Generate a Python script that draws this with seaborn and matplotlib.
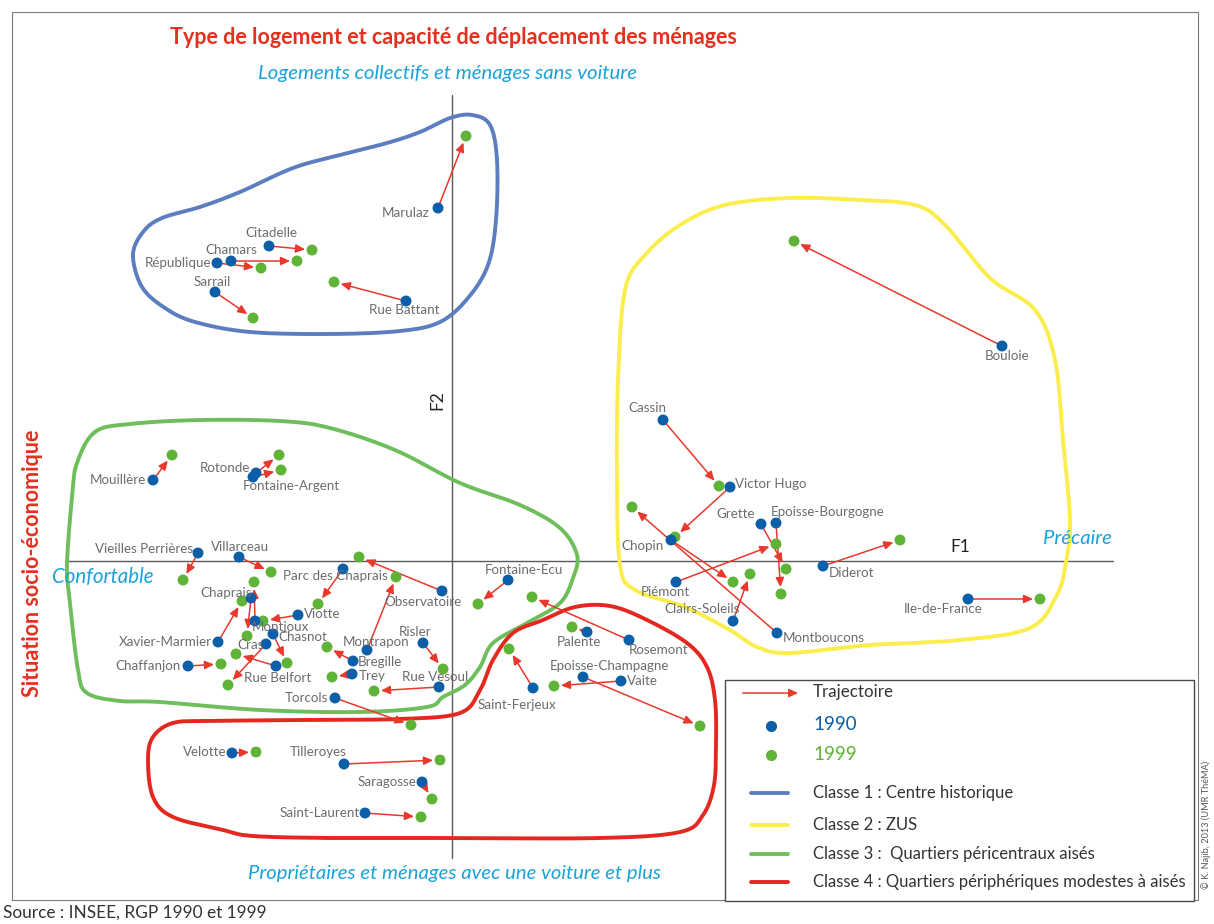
import numpy as np
import pandas as pd
import matplotlib
matplotlib.use("Agg")
import matplotlib.pyplot as plt
import seaborn as sns
from matplotlib.patches import Rectangle, FancyArrowPatch

# ---------------- DATA ----------------
quartiers = [
    "Marulaz", "Citadelle", "Chamars", "République", "Sarrail", "Rue Battant",
    "Bouloie", "Cassin", "Victor Hugo", "Chopin", "Montboucons", "Piémont",
    "Clairs-Soleils", "Grette", "Epoisse-Bourgogne", "Diderot", "Ile-de-France",
    "Mouillère", "Rotonde", "Fontaine-Argent", "Vieilles Perrières", "Villarceau",
    "Parc des Chaprais", "Observatoire", "Montrapon", "Bregille", "Trey", "Risler",
    "Rue Vesoul", "Viotte", "Chaprais", "Montjoux", "Xavier-Marmier", "Chasnot",
    "Cras", "Rue Belfort", "Chaffanjon", "Torcols", "Fontaine-Ecu",
    "Palente", "Rosemont", "Saint-Ferjeux", "Epoisse-Champagne", "Vaite",
    "Velotte", "Tilleroyes", "Saragosse", "Saint-Laurent",
]
classe = [1] * 6 + [2] * 11 + [3] * 22 + [4] * 9

f1_1990 = [-0.14, -1.83, -2.21, -2.35, -2.37, -0.46,
           5.50, 2.11, 2.78, 2.19, 3.25, 2.24, 2.81, 3.09, 3.24, 3.71, 5.16,
           -2.99, -1.96, -1.99, -2.54, -2.13, -1.09, -0.10, -0.85, -0.99, -1.00, -0.29,
           -0.13, -1.54, -2.01, -1.97, -2.34, -1.79, -1.86, -1.76, -2.64, -1.17, 0.56,
           1.35, 1.77, 0.81, 1.31, 1.69, -2.20, -1.08, -0.30, -0.87]
f2_1990 = [3.53, 3.15, 3.00, 2.98, 2.69, 2.60,
           2.15, 1.41, 0.74, 0.21, -0.72, -0.21, -0.60, 0.37, 0.38, -0.05, -0.38,
           0.81, 0.88, 0.84, 0.08, 0.04, -0.08, -0.30, -0.89, -1.00, -1.13, -0.82,
           -1.26, -0.54, -0.37, -0.60, -0.81, -0.73, -0.83, -1.05, -1.05, -1.37, -0.19,
           -0.71, -0.79, -1.27, -1.16, -1.20, -1.92, -2.03, -2.21, -2.52]
f1_1999 = [0.14, -1.40, -1.55, -1.91, -1.99, -1.18,
           3.42, 2.67, 2.23, 2.81, 1.80, 3.24, 2.98, 3.34, 3.29, 4.48, 5.88,
           -2.80, -1.73, -1.71, -2.69, -1.81, -1.34, -0.93, -0.56, -1.25, -1.20, -0.09,
           -0.78, -1.89, -2.05, -1.98, -2.10, -1.65, -2.24, -2.16, -2.31, -0.41, 0.26,
           1.20, 0.80, 0.57, 2.48, 1.02, -1.96, -0.12, -0.20, -0.31]
f2_1999 = [4.25, 3.11, 3.00, 2.93, 2.43, 2.79,
           3.20, 0.75, 0.24, -0.21, 0.54, 0.17, -0.13, -0.08, -0.33, 0.21, -0.38,
           1.06, 1.06, 0.91, -0.19, -0.11, -0.43, 0.04, -0.16, -0.86, -1.16, -1.08,
           -1.30, -0.60, -0.75, -0.21, -0.40, -1.02, -1.24, -0.93, -1.03, -1.64, -0.43,
           -0.66, -0.36, -0.88, -1.65, -1.25, -1.91, -1.99, -2.38, -2.56]

# class outlines (hand-drawn envelopes, in factor units)
hull1_f1 = [-3.19, -3.09, -2.90, -2.52, -2.12, -1.59, -1.12, -0.65, -0.32, -0.02, 0.20, 0.38,
            0.45, 0.44, 0.36, 0.16, -0.12, -0.52, -1.22, -2.02, -2.57, -2.87, -3.10]
hull1_f2 = [3.06, 3.29, 3.43, 3.54, 3.69, 3.93, 4.06, 4.18, 4.29, 4.43, 4.46, 4.36,
            4.01, 3.41, 2.96, 2.63, 2.39, 2.30, 2.27, 2.29, 2.39, 2.53, 2.74]
hull2_f1 = [1.73, 1.93, 2.28, 2.73, 3.38, 4.08, 4.63, 4.93, 5.38, 5.83, 6.03, 6.11, 6.18,
            6.14, 6.05, 5.78, 5.08, 4.18, 3.38, 3.05, 2.78, 2.33, 1.83, 1.68, 1.65, 1.66]
hull2_f2 = [2.71, 3.06, 3.36, 3.56, 3.63, 3.61, 3.56, 3.36, 2.83, 2.51, 2.01, 1.21, 0.41,
            -0.01, -0.34, -0.67, -0.79, -0.84, -0.92, -0.86, -0.69, -0.46, -0.29, -0.04, 0.81, 1.81]
hull3_f1 = [-3.57, -3.22, -2.52, -1.72, -1.22, -0.57, 0.08, 0.68, 1.08, 1.25, 1.21, 1.08,
            0.75, 0.41, 0.28, 0.13, -0.09, -0.25, -0.92, -1.92, -2.92, -3.32, -3.65, -3.74,
            -3.82, -3.85, -3.80, -3.75]
hull3_f2 = [1.29, 1.37, 1.41, 1.40, 1.33, 1.11, 0.78, 0.56, 0.33, 0.06, -0.17, -0.42,
            -0.62, -0.82, -1.06, -1.24, -1.36, -1.46, -1.51, -1.49, -1.41, -1.40, -1.32, -1.09,
            -0.42, -0.04, 0.64, 0.98]
hull4_f1 = [-2.79, -2.42, -1.52, -0.52, 0.08, 0.28, 0.41, 0.61, 0.91, 1.23, 1.58, 1.93,
            2.35, 2.55, 2.63, 2.64, 2.62, 2.51, 2.28, 1.48, -0.12, -1.22, -1.99, -2.29,
            -2.79, -2.99, -3.04, -2.99]
hull4_f2 = [-1.62, -1.60, -1.59, -1.58, -1.52, -1.29, -0.99, -0.72, -0.59, -0.46, -0.45, -0.58,
            -0.82, -1.06, -1.39, -1.84, -2.24, -2.54, -2.71, -2.77, -2.77, -2.77, -2.75, -2.69,
            -2.56, -2.36, -1.99, -1.76]

classes_legende = ["Classe 1 : Centre historique", "Classe 2 : ZUS",
                   "Classe 3 :  Quartiers péricentraux aisés",
                   "Classe 4 : Quartiers périphériques modestes à aisés"]

# ---------------- STYLE ----------------
BLUE_PT = "#0b5ea8"
GREEN_PT = "#5fb437"
RED_ARW = "#e8392c"
HULL_COL = {1: "#5b7ec0", 2: "#fbee4c", 3: "#6ebe5c", 4: "#e4281f"}
GRAY_TXT = "#6b6c6e"
CYAN = "#1ba1dc"
TITLE_RED = "#e4301f"

# label offsets in pixels (dx, dy screen-down) and alignment
LBL = {
    "Marulaz": (-8, 5, "right"), "Citadelle": (2, -13, "center"), "Chamars": (0, -11, "center"),
    "République": (-6, 0, "right"), "Sarrail": (-3, -10, "center"), "Rue Battant": (-2, 9, "center"),
    "Bouloie": (5, 10, "center"), "Cassin": (-16, -12, "center"), "Victor Hugo": (5, -3, "left"),
    "Chopin": (-28, 6, "center"), "Montboucons": (6, 5, "left"), "Piémont": (-11, 10, "center"),
    "Clairs-Soleils": (-31, -12, "center"), "Grette": (-6, -10, "right"),
    "Epoisse-Bourgogne": (52, -11, "center"), "Diderot": (6, 7, "left"),
    "Ile-de-France": (-25, 10, "center"), "Mouillère": (-7, 0, "right"),
    "Rotonde": (-6, -5, "right"), "Fontaine-Argent": (-10, 9, "left"),
    "Vieilles Perrières": (-5, -4, "right"), "Villarceau": (1, -10, "center"),
    "Parc des Chaprais": (-60, 7, "left"), "Observatoire": (-19, 11, "center"),
    "Montrapon": (9, -8, "center"), "Bregille": (5, 1, "left"), "Trey": (7, 2, "left"),
    "Risler": (-8, -11, "center"), "Rue Vesoul": (-4, -10, "center"), "Viotte": (6, -1, "left"),
    "Chaprais": (-25, -5, "center"), "Montjoux": (-3, 6, "left"),
    "Xavier-Marmier": (-6, 0, "right"), "Chasnot": (5, 3, "left"), "Cras": (-2, 1, "right"),
    "Rue Belfort": (-32, 12, "left"), "Chaffanjon": (-7, 0, "right"), "Torcols": (-7, 0, "right"),
    "Fontaine-Ecu": (16, -10, "center"), "Palente": (-8, 10, "center"),
    "Rosemont": (30, 10, "center"), "Saint-Ferjeux": (-16, 17, "center"),
    "Epoisse-Champagne": (26, -11, "center"), "Vaite": (6, 0, "left"),
    "Velotte": (-6, -1, "right"), "Tilleroyes": (-26, -12, "center"),
    "Saragosse": (-6, 0, "right"), "Saint-Laurent": (-5, 0, "right"),
}

sns.set_theme(style="white")
FONT = ["Lato", "DejaVu Sans"]
plt.rcParams["font.family"] = FONT

W, H = 1214, 924
fig = plt.figure(figsize=(W / 100, H / 100), dpi=100)
ax = fig.add_axes([0, 0, 1, 1])


def T(x, y):
    return (x / W, 1 - y / H)


def closed_spline(xs, ys, n=24):
    p = np.column_stack([xs, ys])
    m = len(p)
    out = []
    for i in range(m):
        p0, p1, p2, p3 = p[(i - 1) % m], p[i], p[(i + 1) % m], p[(i + 2) % m]
        t = np.linspace(0, 1, n, endpoint=False)[:, None]
        out.append(0.5 * ((2 * p1) + (-p0 + p2) * t + (2 * p0 - 5 * p1 + 4 * p2 - p3) * t ** 2
                          + (-p0 + 3 * p1 - 3 * p2 + p3) * t ** 3))
    out = np.vstack(out + [out[0][:1]])
    return out[:, 0], out[:, 1]


df = pd.DataFrame({"quartier": quartiers, "classe": classe,
                   "f1_90": f1_1990, "f2_90": f2_1990, "f1_99": f1_1999, "f2_99": f2_1999})

# axes F1/F2
ax.plot([-3.87, 6.61], [0, 0], color="#5a5a5a", lw=1.0, zorder=1)
ax.plot([0, 0], [-2.97, 4.66], color="#5a5a5a", lw=1.0, zorder=1)

# class envelopes
for k, (hx, hy) in {1: (hull1_f1, hull1_f2), 2: (hull2_f1, hull2_f2),
                    3: (hull3_f1, hull3_f2), 4: (hull4_f1, hull4_f2)}.items():
    sx, sy = closed_spline(hx, hy)
    ax.plot(sx, sy, color=HULL_COL[k], lw=2.8, zorder=2, solid_capstyle="round")

# trajectories
for _, r in df.iterrows():
    ax.annotate("", xy=(r.f1_99, r.f2_99), xytext=(r.f1_90, r.f2_90),
                arrowprops=dict(arrowstyle="-|>,head_length=0.55,head_width=0.25",
                                color=RED_ARW, lw=1.1, shrinkA=2, shrinkB=5,
                                mutation_scale=10), zorder=3)

sns.scatterplot(data=df, x="f1_99", y="f2_99", color=GREEN_PT, s=62, edgecolor="none",
                ax=ax, zorder=4, legend=False)
sns.scatterplot(data=df, x="f1_90", y="f2_90", color=BLUE_PT, s=62, edgecolor="none",
                ax=ax, zorder=4, legend=False)
ax.set_xlim(-4.52, 7.62)
ax.set_ylim(-3.63, 5.61)
ax.set_axis_off()

for _, r in df.iterrows():
    dx, dy, ha = LBL[r.quartier]
    ax.annotate(r.quartier, xy=(r.f1_90, r.f2_90), xytext=(dx * 0.72, -dy * 0.72),
                textcoords="offset points", ha=ha, va="center", fontsize=9.6,
                color=GRAY_TXT, zorder=5)

# titles and axis texts
fig.text(*T(453, 38), "Type de logement et capacité de déplacement des ménages",
         ha="center", va="center", fontsize=15.5, fontweight="bold", color=TITLE_RED)
fig.text(*T(448, 73), "Logements collectifs et ménages sans voiture", ha="center", va="center",
         fontsize=14.7, style="italic", color=CYAN)
fig.text(*T(454, 873), "Propriétaires et ménages avec une voiture et plus", ha="center",
         va="center", fontsize=14.6, style="italic", color=CYAN)
fig.text(*T(103, 577), "Confortable", ha="center", va="center", fontsize=14.8,
         style="italic", color=CYAN)
fig.text(*T(1077, 539), "Précaire", ha="center", va="center", fontsize=14.6,
         style="italic", color=CYAN)
fig.text(*T(33, 563), "Situation socio-économique", ha="center", va="center", fontsize=15.5,
         fontweight="bold", color=TITLE_RED, rotation=90)
fig.text(*T(437, 400), "F2", ha="center", va="center", fontsize=12.5, color="#222222",
         rotation=90)
fig.text(*T(960, 547), "F1", ha="center", va="center", fontsize=12.5, color="#222222")
fig.text(*T(3, 913), "Source : INSEE, RGP 1990 et 1999", ha="left", va="center",
         fontsize=12.4, color="#333333")
fig.text(*T(1206, 825), "© K. Najib, 2013 (UMR ThéMA)", ha="center", va="center",
         fontsize=6.6, color="#555555", rotation=90)

# outer frame
fig.patches.append(Rectangle(T(12, 900), (1198 - 12) / W, (900 - 12) / H,
                             transform=fig.transFigure, fill=False, ec="#7a7a7a", lw=0.8))

# legend box
fig.patches.append(Rectangle(T(725, 901), (1194 - 725) / W, (901 - 680) / H,
                             transform=fig.transFigure, fc="white", ec="#4a4a4a", lw=1.0,
                             zorder=10))
fig.patches.append(FancyArrowPatch(T(740, 693), T(801, 693), transform=fig.transFigure,
                                   arrowstyle="-|>,head_length=0.55,head_width=0.25",
                                   mutation_scale=10, color=RED_ARW, lw=1.1, zorder=11))
fig.text(*T(813, 692), "Trajectoire", ha="left", va="center", fontsize=12.2, color="#333333",
         zorder=12)
fig.lines.append(plt.Line2D([771 / W], [1 - 726 / H], marker="o", ms=7, color=BLUE_PT,
                            transform=fig.transFigure, zorder=11))
fig.lines.append(plt.Line2D([771 / W], [1 - 755 / H], marker="o", ms=7, color=GREEN_PT,
                            transform=fig.transFigure, zorder=11))
fig.text(*T(813, 725), "1990", ha="left", va="center", fontsize=13.5, color=BLUE_PT, zorder=12)
fig.text(*T(813, 754), "1999", ha="left", va="center", fontsize=13.5, color=GREEN_PT, zorder=12)
for i, (lab, yy) in enumerate(zip(classes_legende, [793, 825, 854, 882])):
    fig.lines.append(plt.Line2D([751 / W, 788 / W], [1 - yy / H] * 2, color=HULL_COL[i + 1],
                                lw=2.8, transform=fig.transFigure, zorder=11))
    fig.text(*T(813, yy), lab, ha="left", va="center", fontsize=12.0, color="#333333",
             zorder=12)

fig.savefig("out.png", dpi=100, facecolor="white")
